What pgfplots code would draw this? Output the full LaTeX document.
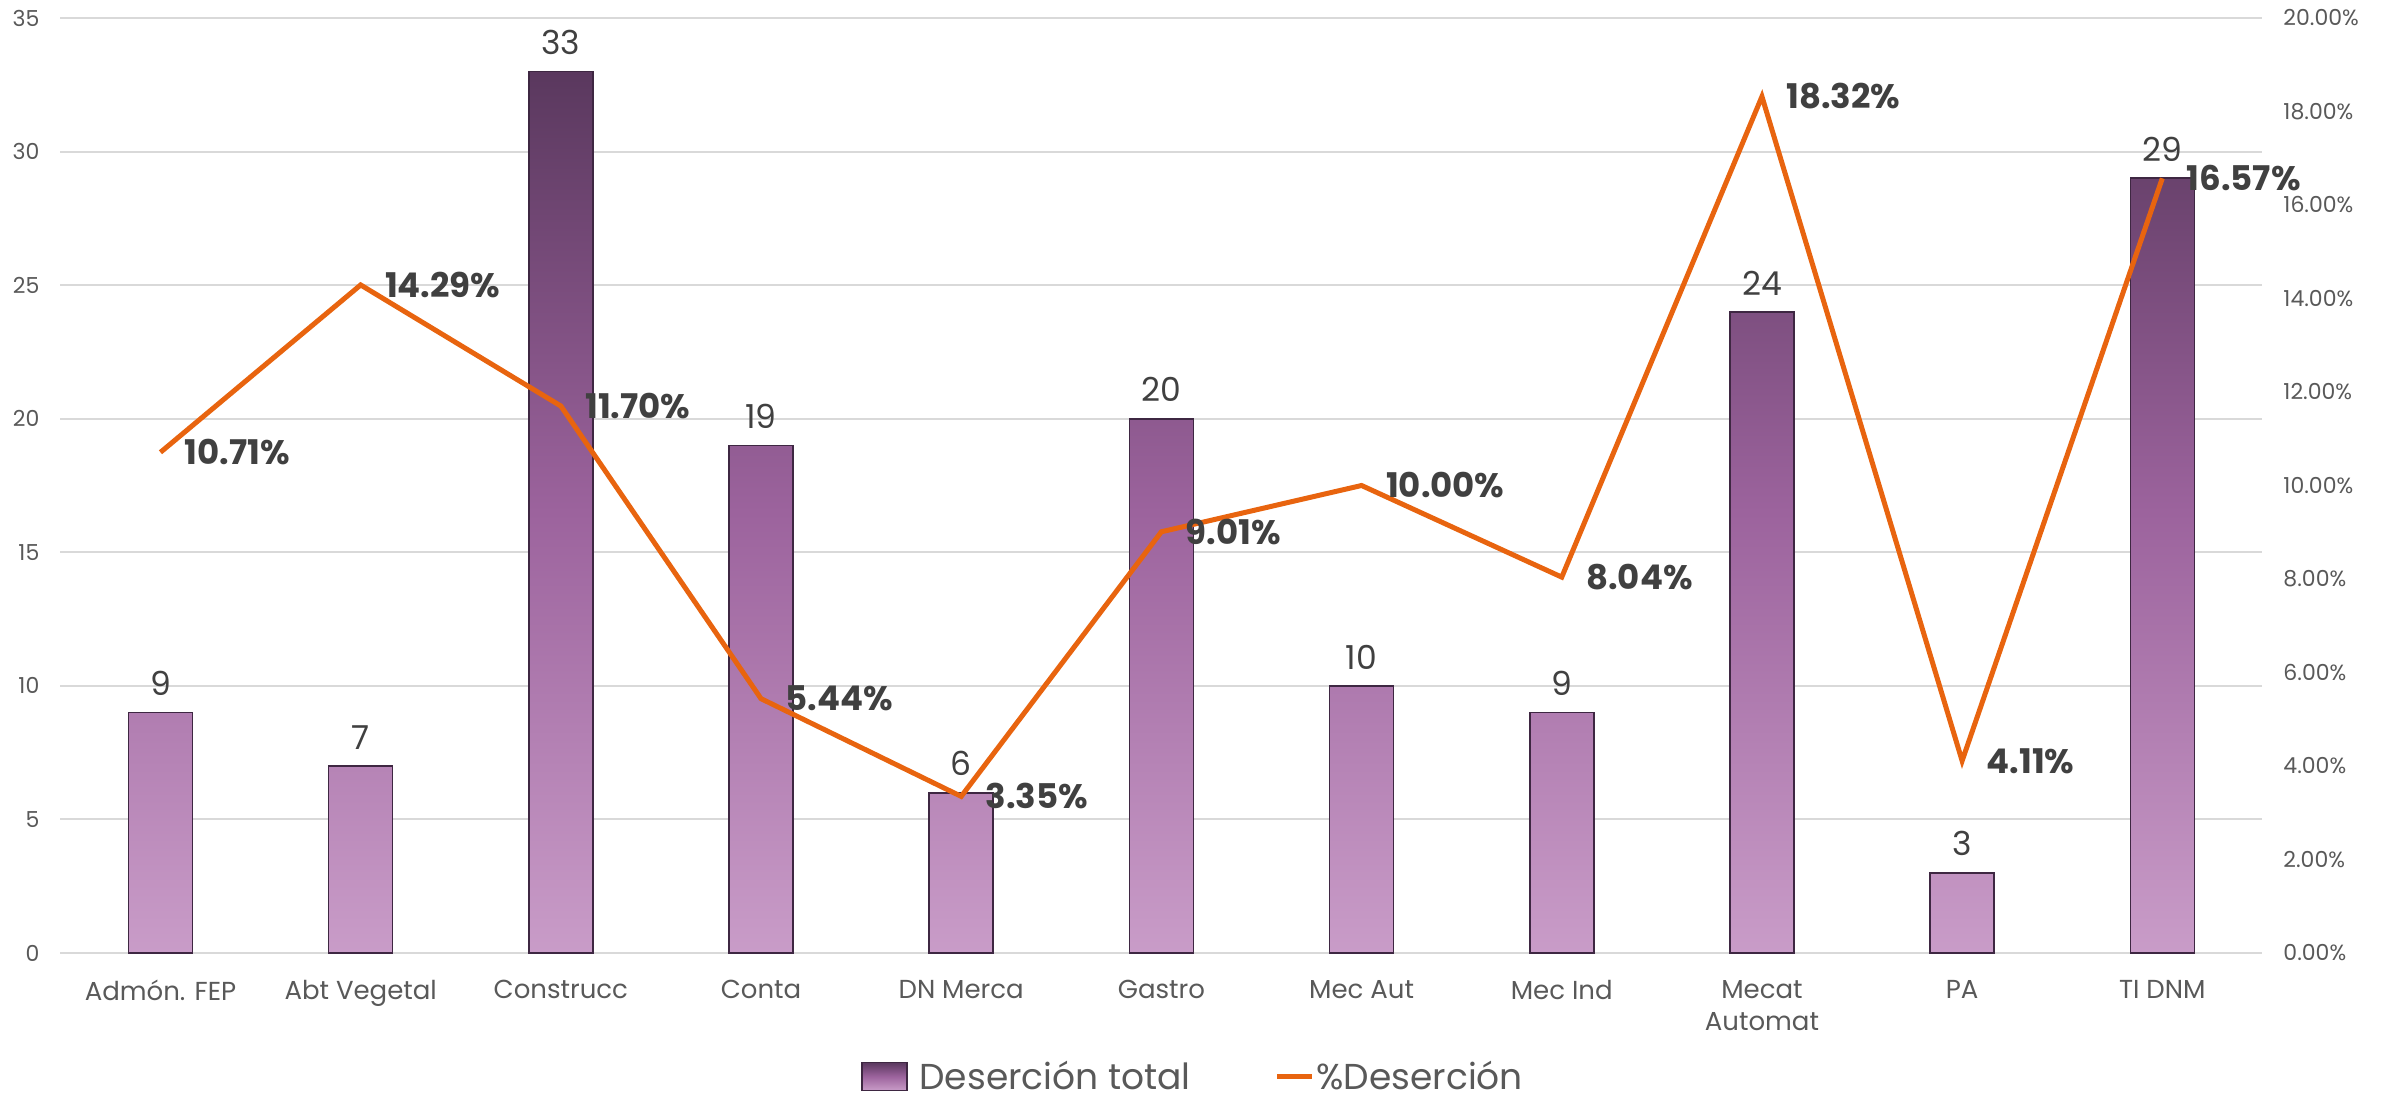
\documentclass[border=0pt]{standalone}
\usepackage{pgfplots}
\pgfplotsset{compat=1.18}
\usepackage{fontspec}
\setmainfont{Poppins}
\definecolor{TickGrey}{HTML}{595959}
\definecolor{LabelGrey}{HTML}{404040}
\definecolor{GridGrey}{HTML}{D9D9D9}
\definecolor{BarTop}{HTML}{5A385E}
\definecolor{BarMid}{HTML}{9C639D}
\definecolor{BarBot}{HTML}{C99CC8}
\definecolor{BarEdge}{HTML}{3E2742}
\definecolor{LineOrange}{HTML}{E8640F}
\pgfplotsset{base/.style={scale only axis,width=1101pt,height=467.5pt,xmin=-0.5,xmax=10.5,
  axis line style={draw=none},major tick length=0pt,clip=false,
  tick label style={font=\fontsize{11}{13}\selectfont,text=TickGrey},
  /pgf/number format/assume math mode=true}}
\begin{document}
\begin{tikzpicture}
\useasboundingbox (-30.2pt,-74pt) rectangle (1166.8pt,476.5pt);
\begin{axis}[base,ymin=0,ymax=35,ytick={0,5,...,35},ymajorgrids,grid style={GridGrey,line width=1pt},
  xtick={0,...,10},
  xticklabels={Admón. FEP,Abt Vegetal,Construcc,Conta,DN Merca,Gastro,Mec Aut,Mec Ind,{Mecat\\Automat},PA,TI DNM},
  xticklabel style={align=center,font=\fontsize{13}{16}\selectfont,yshift=-10pt},
  yticklabel style={xshift=-7pt},
  ybar,bar width=32pt,nodes near coords,
  nodes near coords style={font=\fontsize{16.5}{19}\selectfont,text=LabelGrey,anchor=south,inner sep=0pt,yshift=8pt}]
\addplot[draw=BarEdge,line width=0.8pt,top color=BarTop,bottom color=BarBot,middle color=BarMid]
  coordinates {(0,9) (1,7) (2,33) (3,19) (4,6) (5,20) (6,10) (7,9) (8,24) (9,3) (10,29)};
\end{axis}
\begin{axis}[base,ymin=0,ymax=20,ytick={0,2,...,20},axis y line*=right,xtick=\empty,
  yticklabel={\pgfmathprintnumber[fixed,fixed zerofill,precision=2]{\tick}\%},
  yticklabel style={xshift=7pt},
  legend columns=2,
  legend style={at={(0.514,-0.132)},anchor=center,draw=none,fill=none,
    font=\fontsize{18}{21}\selectfont,text=TickGrey,nodes={inner sep=0pt},
    /tikz/every even column/.append style={column sep=42pt}}]
\addlegendimage{legend image code/.code={\draw[draw=BarEdge,line width=0.6pt,top color=BarTop,bottom color=BarBot,middle color=BarMid] (0pt,-7pt) rectangle (22.5pt,7pt); \path (28.5pt,0pt);}}
\addlegendentry{Deserción total}
\addplot[LineOrange,line width=2.5pt,mark=none,
  legend image code/.code={\draw[LineOrange,line width=2.5pt] (0pt,0pt) -- (17.5pt,0pt); \path (18.5pt,0pt);},
  nodes near coords={\pgfmathprintnumber[fixed,fixed zerofill,precision=2]{\pgfplotspointmeta}\%},
  nodes near coords style={font=\bfseries\fontsize{17}{20}\selectfont,text=LabelGrey,anchor=west,inner sep=0pt,xshift=11pt}]
  coordinates {(0,10.71) (1,14.29) (2,11.70) (3,5.44) (4,3.35) (5,9.01) (6,10.00) (7,8.04) (8,18.32) (9,4.11) (10,16.57)};
\addlegendentry{\%Deserción}
\end{axis}
\end{tikzpicture}
\end{document}
